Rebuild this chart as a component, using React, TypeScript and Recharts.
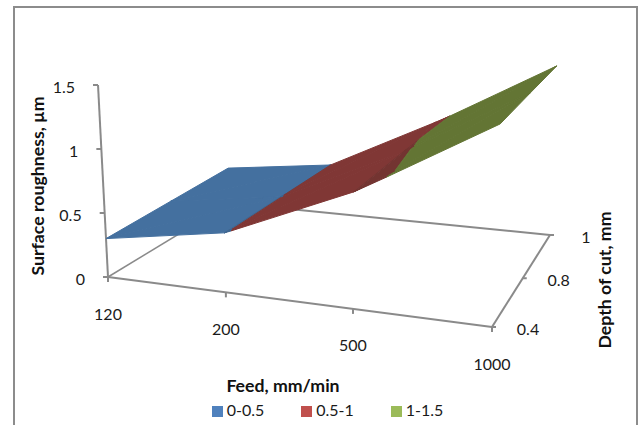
import React from "react";
import { ComposedChart, Scatter, XAxis, YAxis, Legend } from "recharts";

// ---- data ----
const feedLabels = ["120", "200", "500", "1000"];
const depthLabels = ["0.4", "0.8", "1"];
const roughnessTicks = [0, 0.5, 1, 1.5];
const roughnessDepth04 = [0.3, 0.48, 0.87, 1.44];
const roughnessDepth08 = [0.31, 0.49, 0.97, 1.47];
const roughnessDepth10 = [0.32, 0.5, 1.067, 1.5];
const rows = [roughnessDepth04, roughnessDepth08, roughnessDepth10];
const bandNames = ["0-0.5", "0.5-1", "1-1.5"];
const bandLimits = [0, 0.5, 1, 2];
const legendColors = ["#4f81bd", "#c0504d", "#9bbb59"];
// shade of each band in each feed segment (lighting of the 3-D surface)
const surfaceColors = [
  ["#44709f", "#803735", "#803735"],
  ["#3f6690", "#803735", "#803735"],
  ["#3f6690", "#733431", "#637534"],
];

// ---- oblique view of the 3-D box ----
const A = [108, 277], B = [492, 327], C = [550, 235], D = [230, 203];
const feedFront = [0, 0.307, 0.638, 1];
const feedBack = [0, 0.318, 0.685, 1];
const depthPos = [0, 0.53, 1];
const heightFront = [128, 124, 134.5, 141];
const heightBack = [109, 96.4, 102, 112.7];
const tiltLeft = -0.052, tiltRight = 0.04;

const lerp = (a: number, b: number, t: number) => a + (b - a) * t;
const along = (arr: number[], s: number) => {
  const i = Math.min(Math.floor(s), arr.length - 2);
  return lerp(arr[i], arr[i + 1], s - i);
};
function project(s: number, t: number, z: number) {
  const pf = along(feedFront, s), pb = along(feedBack, s), v = along(depthPos, t);
  const fx = lerp(A[0], B[0], pf), fy = lerp(A[1], B[1], pf);
  const bx = lerp(D[0], C[0], pb), by = lerp(D[1], C[1], pb);
  const h = lerp(along(heightFront, s), along(heightBack, s), v) * z;
  const tilt = lerp(tiltLeft, tiltRight, pf);
  return { x: lerp(fx, bx, v) + tilt * h, y: lerp(fy, by, v) - h };
}

type V = { s: number; t: number; z: number };
function clip(poly: V[], limit: number, keepAbove: boolean) {
  const out: V[] = [];
  const inside = (p: V) => (keepAbove ? p.z >= limit : p.z <= limit);
  poly.forEach((p, i) => {
    const q = poly[(i + 1) % poly.length];
    if (inside(p)) out.push(p);
    if (inside(p) !== inside(q)) {
      const k = (limit - p.z) / (q.z - p.z);
      out.push({ s: lerp(p.s, q.s, k), t: lerp(p.t, q.t, k), z: limit });
    }
  });
  return out;
}

const vertex = (s: number, t: number): V => ({ s, t, z: rows[t][s] });
const surfacePieces: { color: string; pts: { x: number; y: number }[] }[] = [];
for (let s = 0; s < feedLabels.length - 1; s++) {
  for (let t = 0; t < rows.length - 1; t++) {
    const tris = [
      [vertex(s, t), vertex(s + 1, t), vertex(s + 1, t + 1)],
      [vertex(s, t), vertex(s + 1, t + 1), vertex(s, t + 1)],
    ];
    tris.forEach((tri) =>
      bandNames.forEach((_, b) => {
        const piece = clip(clip(tri, bandLimits[b], true), bandLimits[b + 1], false);
        if (piece.length > 2)
          surfacePieces.push({
            color: surfaceColors[s][b],
            pts: piece.map((p) => project(p.s, p.t, p.z)),
          });
      })
    );
  }
}

const GRAY = "#8a8a8a";
const feedTickAt = (i: number) => project(i, 0, 0);
const floorOutline = [
  [project(0, 0, 0), project(3, 0, 0)],
  [project(3, 0, 0), project(3, 2, 0)],
  [project(3, 2, 0), project(0, 2, 0)],
  [project(0, 2, 0), project(0, 0, 0)],
  [project(0, 0, 1.5), project(0, 0, 0)],
];
const tickSegments = [
  ...roughnessTicks.map((z) => {
    const p = project(0, 0, z);
    return [{ x: p.x - 5, y: p.y }, p];
  }),
  ...feedLabels.map((_, i) => {
    const p = feedTickAt(i);
    return [p, { x: p.x, y: p.y + 5 }];
  }),
  ...depthLabels.map((_, i) => {
    const p = project(3, i, 0);
    return [p, { x: p.x + 4, y: p.y }];
  }),
];

const textPoints = [
  ...roughnessTicks.map((z) => {
    const p = project(0, 0, z);
    return { x: p.x - 23, y: p.y + 1.5, label: String(z), anchor: "end" };
  }),
  ...feedLabels.map((label, i) => {
    const p = feedTickAt(i);
    return { x: p.x, y: p.y + 36, label, anchor: "middle" };
  }),
  ...depthLabels.map((label, i) => {
    const p = project(3, i, 0);
    return { x: p.x + 36, y: p.y + 1, label, anchor: "middle" };
  }),
];

const noMark = () => <g />;
const textMark = (p: any) => (
  <text
    x={p.cx}
    y={p.cy}
    textAnchor={p.payload.anchor}
    dominantBaseline="central"
    fontFamily="Lato"
    fontSize={16}
    fill="#1a1a1a"
  >
    {p.payload.label}
  </text>
);
const titleMark = (p: any) => (
  <text
    x={p.cx}
    y={p.cy}
    textAnchor="middle"
    dominantBaseline="central"
    fontFamily="Lato"
    fontWeight={700}
    fontSize={17.7}
    fill="#111"
    transform={p.payload.rotate ? `rotate(-90 ${p.cx} ${p.cy})` : undefined}
  >
    {p.payload.label}
  </text>
);
const titles = [
  { x: 37, y: 186, label: "Surface roughness, µm", rotate: true },
  { x: 604, y: 280, label: "Depth of cut, mm", rotate: true },
  { x: 283, y: 385, label: "Feed, mm/min", rotate: false },
];

export default function App() {
  return (
    <div style={{ position: "absolute", left: 0, top: 0, width: 643, height: 425, overflow: "hidden", background: "#fff" }}>
      <div
        style={{
          position: "absolute",
          left: 13,
          top: 6,
          width: 621,
          height: 440,
          border: "2px solid #8c8c8c",
        }}
      />
      <ComposedChart
        width={643}
        height={425}
        margin={{ top: 0, right: 0, bottom: 0, left: 0 }}
        style={{ position: "absolute", left: 0, top: 0 }}
      >
        <XAxis type="number" dataKey="x" domain={[0, 643]} hide />
        <YAxis type="number" dataKey="y" domain={[0, 425]} reversed hide />
        {floorOutline.map((seg, i) => (
          <Scatter
            key={"floor" + i}
            data={seg}
            shape={noMark}
            legendType="none"
            isAnimationActive={false}
            line={{ stroke: GRAY, strokeWidth: i === 3 ? 1.5 : 2, fill: "none" }}
          />
        ))}
        {tickSegments.map((seg, i) => (
          <Scatter
            key={"tick" + i}
            data={seg}
            shape={noMark}
            legendType="none"
            isAnimationActive={false}
            line={{ stroke: GRAY, strokeWidth: 2, fill: "none" }}
          />
        ))}
        {surfacePieces.map((piece, i) => (
          <Scatter
            key={"piece" + i}
            data={[...piece.pts, piece.pts[0]]}
            shape={noMark}
            legendType="none"
            isAnimationActive={false}
            line={{ stroke: piece.color, strokeWidth: 1, fill: piece.color, strokeLinejoin: "round" }}
          />
        ))}
        <Scatter data={textPoints} shape={textMark} legendType="none" isAnimationActive={false} />
        <Scatter data={titles} shape={titleMark} legendType="none" isAnimationActive={false} />
        {bandNames.map((name, i) => (
          <Scatter
            key={name}
            name={name}
            data={[]}
            fill={legendColors[i]}
            legendType="square"
            isAnimationActive={false}
          />
        ))}
        <Legend
          layout="horizontal"
          align="center"
          verticalAlign="middle"
          iconSize={11}
          wrapperStyle={{ left: 196, top: 400, width: 300, right: "auto", bottom: "auto", fontFamily: "Lato", fontSize: 16 }}
          formatter={(v: string) => (
            <span style={{ color: "#1a1a1a", marginRight: 27 }}>{v}</span>
          )}
        />
      </ComposedChart>
    </div>
  );
}
